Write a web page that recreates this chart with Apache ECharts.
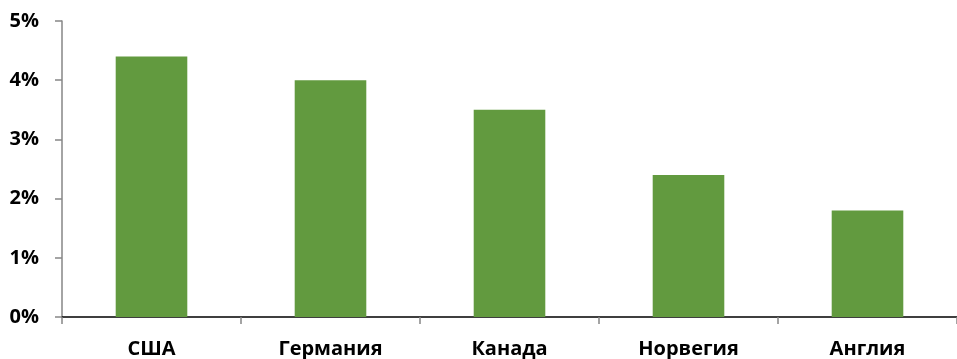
<!DOCTYPE html>
<html><head><meta charset="utf-8">
<script src="https://cdn.jsdelivr.net/npm/echarts@6/dist/echarts.min.js"></script>
<style>html,body{margin:0;padding:0;background:#fff}#c{width:957px;height:359px}</style>
</head><body><div id="c"></div>
<script>
const categories = ['США', 'Германия', 'Канада', 'Норвегия', 'Англия'];
const values = [4.4, 4.0, 3.5, 2.4, 1.8];
const yTicks = [0, 1, 2, 3, 4, 5];

const chart = echarts.init(document.getElementById('c'));
const font = '"Open Sans", sans-serif';
chart.setOption({
  animation: false,
  grid: { left: 62, right: -5, top: 21, bottom: 41 },
  xAxis: {
    type: 'category', data: categories,
    axisLine: { lineStyle: { color: '#000', width: 1.5 } },
    axisTick: { show: true, length: 7, lineStyle: { color: '#868686', width: 1.5 } },
    axisLabel: { margin: 22, color: '#000', fontWeight: 'bold', fontSize: 20, fontFamily: font }
  },
  yAxis: {
    type: 'value', min: yTicks[0], max: yTicks[yTicks.length - 1], interval: 1,
    splitLine: { show: false },
    axisLine: { show: true, lineStyle: { color: '#868686', width: 1.5 } },
    axisTick: { show: true, length: 7, lineStyle: { color: '#868686', width: 1.5 } },
    axisLabel: { margin: 23, color: '#000', fontWeight: 'bold', fontSize: 20, fontFamily: font,
      formatter: v => v + '%' }
  },
  series: [{
    type: 'bar', data: values, barWidth: '40%',
    itemStyle: { color: '#629a3f' }
  }]
});
</script></body></html>
